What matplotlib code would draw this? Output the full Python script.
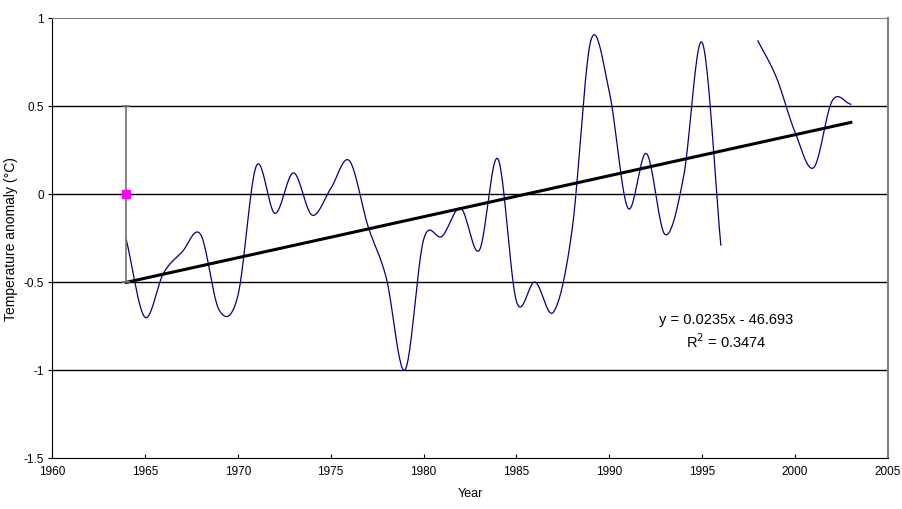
import numpy as np
import matplotlib.pyplot as plt

plt.rcParams['font.family'] = ['Liberation Sans', 'DejaVu Sans']

# annual anomaly values (1997 missing)
years = [1964, 1965, 1966, 1967, 1968, 1969, 1970, 1971, 1972, 1973,
         1974, 1975, 1976, 1977, 1978, 1979, 1980, 1981, 1982, 1983,
         1984, 1985, 1986, 1987, 1988, 1989, 1990, 1991, 1992, 1993,
         1994, 1995, 1996, 1998, 1999, 2000, 2001, 2002, 2003]
anomaly = [-0.26, -0.70, -0.45, -0.33, -0.23, -0.66, -0.58, 0.16, -0.11, 0.12,
           -0.12, 0.03, 0.19, -0.18, -0.48, -1.00, -0.26, -0.24, -0.08, -0.32,
           0.20, -0.61, -0.50, -0.67, -0.20, 0.87, 0.58, -0.08, 0.23, -0.23,
           0.10, 0.86, -0.29, 0.87, 0.66, 0.35, 0.15, 0.53, 0.51]

# reference point with error bar
ref_year = 1964
ref_value = 0.0
ref_err = 0.5

# trend line as printed on the chart
trend_text = "y = 0.0235x - 46.693"
r2_text = "R$^2$ = 0.3474"


def catmull_rom(x, y, n=24):
    # smooth curve through the points, like the spreadsheet "smoothed line"
    x = np.asarray(x, float)
    y = np.asarray(y, float)
    px = np.concatenate([[2 * x[0] - x[1]], x, [2 * x[-1] - x[-2]]])
    py = np.concatenate([[2 * y[0] - y[1]], y, [2 * y[-1] - y[-2]]])
    xs, ys = [], []
    t = np.linspace(0, 1, n, endpoint=False)
    for i in range(1, len(px) - 2):
        for p, out in ((px, xs), (py, ys)):
            p0, p1, p2, p3 = p[i - 1], p[i], p[i + 1], p[i + 2]
            out.append(0.5 * (2 * p1 + (-p0 + p2) * t
                              + (2 * p0 - 5 * p1 + 4 * p2 - p3) * t ** 2
                              + (-p0 + 3 * p1 - 3 * p2 + p3) * t ** 3))
    xs.append([x[-1]])
    ys.append([y[-1]])
    return np.concatenate(xs), np.concatenate(ys)


fig = plt.figure(figsize=(9.03, 5.10), dpi=100)
ax = fig.add_axes([52 / 903, 51 / 510, 836 / 903, 440 / 510])

yr = np.array(years)
an = np.array(anomaly)
# split at the missing year
gap = np.where(np.diff(yr) > 1)[0] + 1
for sx, sy in zip(np.split(yr, gap), np.split(an, gap)):
    cx, cy = catmull_rom(sx, sy)
    ax.plot(cx, cy, color='#000080', lw=0.9, zorder=3)

# linear trend fitted to the data
slope, inter = np.polyfit(yr, an, 1)
tx = np.array([yr.min(), yr.max()])
ax.plot(tx, slope * tx + inter, color='black', lw=2.2, zorder=4)

ax.errorbar([ref_year], [ref_value], yerr=[ref_err], fmt='s', color='#ff00ff',
            ms=6, ecolor='#707070', elinewidth=1.2, capsize=3, capthick=1.2,
            zorder=5)

ax.text(1996.3, -0.71, trend_text, ha='center', va='center', fontsize=10.5)
ax.text(1996.3, -0.835, r2_text, ha='center', va='center', fontsize=10.5)

ax.set_xlim(1960, 2005)
ax.set_ylim(-1.5, 1)
ax.set_xticks(np.arange(1960, 2006, 5))
ax.set_yticks([-1.5, -1, -0.5, 0, 0.5, 1])
ax.set_yticklabels(['-1.5', '-1', '-0.5', '0', '0.5', '1'])
for yv in [-1, -0.5, 0, 0.5]:
    ax.axhline(yv, color='black', lw=1, zorder=1)

ax.tick_params(axis='x', direction='in', length=3, labelsize=8.5, pad=5)
ax.tick_params(axis='y', direction='out', length=3, labelsize=8.5, pad=3)
ax.spines['left'].set_color('black')
ax.spines['bottom'].set_color('black')
ax.spines['top'].set_color('#808080')
ax.spines['right'].set_color('#808080')
ax.spines['right'].set_linewidth(1.5)

ax.set_xlabel('Year', fontsize=9, labelpad=7)
ax.set_ylabel('Temperature anomaly (°C)', fontsize=10, labelpad=4)

fig.savefig('out.png', dpi=100)
